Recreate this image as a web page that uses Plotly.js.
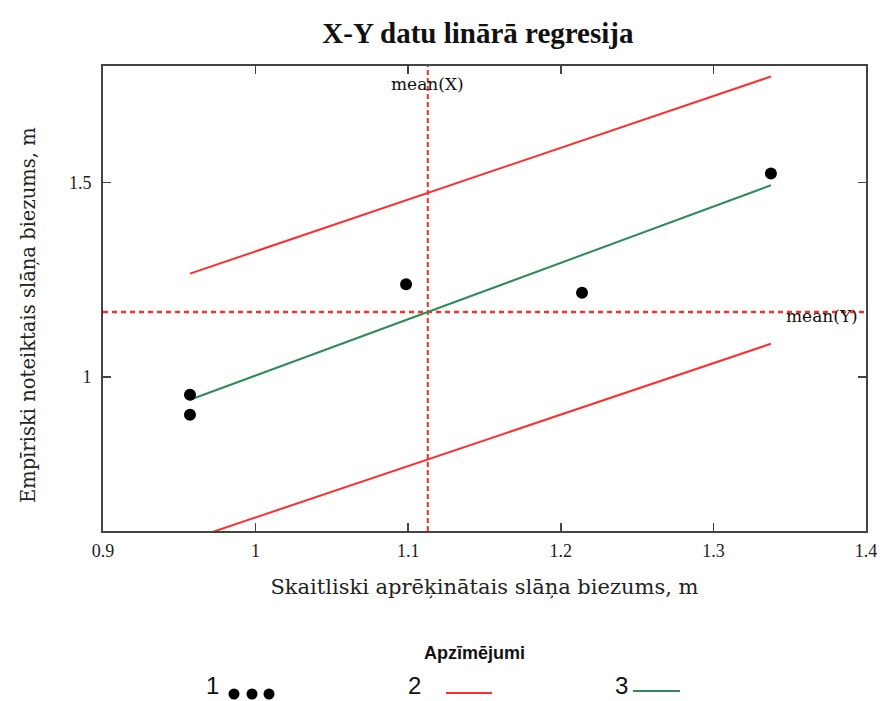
<!DOCTYPE html>
<html>
<head>
<meta charset="utf-8">
<script src="https://cdn.plot.ly/plotly-3.0.1.min.js"></script>
<style>html,body{margin:0;padding:0;background:#fff;}#chart{width:885px;height:701px;}</style>
</head>
<body>
<div id="chart"></div>
<script>
// ---- data ----
const pointsX = [0.957, 0.957, 1.0986, 1.2139, 1.3377];
const pointsY = [0.9536, 0.902, 1.2379, 1.2165, 1.523];

const fitX = [0.957, 1.3377];
const fitY = [0.9407, 1.493];

const upperX = [0.957, 1.3377];
const upperY = [1.2655, 1.773];

const lowerX = [0.957, 1.3377];
const lowerY = [0.581, 1.085];

const xTickVals = [0.9, 1, 1.1, 1.2, 1.3, 1.4];
const xTickText = ['0.9', '1', '1.1', '1.2', '1.3', '1.4'];
const yTickVals = [1, 1.5];
const yTickText = ['1', '1.5'];

const legendLabels = ['1', '2', '3'];
const legendTitle = 'Apzīmējumi';

const chartTitle = 'X-Y datu linārā regresija';
const xTitle = 'Skaitliski aprēķinātais slāņa biezums, m';
const yTitle = 'Empīriski noteiktais slāņa biezums, m';

// ---- derived ----
const mean = a => a.reduce((s, v) => s + v, 0) / a.length;
const meanX = mean(pointsX);
const meanY = mean(pointsY);

const RED = 'rgb(255,45,45)';
const GREEN = '#2e8b57';
const SERIF = '"Liberation Serif", "Times New Roman", serif';
const WIDESERIF = '"DejaVu Serif", serif';
const SANS = '"Liberation Sans", Arial, sans-serif';

// pixel -> paper helpers for text/legend placement (plot area 103..866 x 66..531)
const L = 103, R = 19, T = 66, B = 170, W = 885, H = 701;
const pw = W - L - R, ph = H - T - B;
const px = x => (x - L) / pw;
const py = y => (H - B - y) / ph;

const traces = [
  {x: upperX, y: upperY, mode: 'lines', line: {color: RED, width: 2}, hoverinfo: 'skip'},
  {x: lowerX, y: lowerY, mode: 'lines', line: {color: RED, width: 2}, hoverinfo: 'skip'},
  {x: fitX, y: fitY, mode: 'lines', line: {color: GREEN, width: 2}, hoverinfo: 'skip'},
  {x: pointsX, y: pointsY, mode: 'markers', marker: {color: '#000', size: 12}, cliponaxis: false}
];

const legendDotX = [234, 252, 269];
const shapes = [
  {type: 'line', xref: 'x', yref: 'paper', x0: meanX, x1: meanX, y0: 0, y1: 1,
   line: {color: RED, width: 2, dash: '5px,3px'}, layer: 'below'},
  {type: 'line', xref: 'paper', yref: 'y', x0: 0, x1: 1, y0: meanY, y1: meanY,
   line: {color: RED, width: 2.5, dash: '5px,4px'}, layer: 'below'},
  // legend samples
  {type: 'line', xref: 'paper', yref: 'paper', x0: px(446), x1: px(492), y0: py(693), y1: py(693),
   line: {color: RED, width: 2}},
  {type: 'line', xref: 'paper', yref: 'paper', x0: px(633), x1: px(680), y0: py(691), y1: py(691),
   line: {color: GREEN, width: 2}}
];
legendDotX.forEach(cx => shapes.push({
  type: 'circle', xref: 'paper', yref: 'paper', xsizemode: 'pixel', ysizemode: 'pixel',
  xanchor: px(cx), yanchor: py(694), x0: -5.5, x1: 5.5, y0: -5.5, y1: 5.5,
  fillcolor: '#000', line: {width: 0}
}));

const numFont = {family: SANS, size: 24, color: '#111'};
const meanFont = {family: WIDESERIF, size: 17, color: '#111'};
const annotations = [
  {text: yTitle, xref: 'paper', yref: 'paper', x: px(28), y: py(315), textangle: -90,
   xanchor: 'center', yanchor: 'middle', showarrow: false,
   font: {family: WIDESERIF, size: 19.5, color: '#222'}},
  {text: 'mean(X)', xref: 'x', yref: 'paper', x: meanX, y: 1, yanchor: 'top', yshift: -6,
   showarrow: false, font: meanFont},
  {text: 'mean(Y)', xref: 'paper', yref: 'y', x: 1, y: meanY, xanchor: 'right', yanchor: 'middle',
   xshift: -6, yshift: -4, showarrow: false, font: meanFont},
  {text: '<b>' + legendTitle + '</b>', xref: 'paper', yref: 'paper', x: px(474), y: py(653),
   xanchor: 'center', yanchor: 'middle', showarrow: false, font: {family: SANS, size: 18, color: '#111'}},
  {text: legendLabels[0], xref: 'paper', yref: 'paper', x: px(212), y: py(701), xanchor: 'center', yanchor: 'bottom',
   showarrow: false, font: numFont},
  {text: legendLabels[1], xref: 'paper', yref: 'paper', x: px(414), y: py(701), xanchor: 'center', yanchor: 'bottom',
   showarrow: false, font: numFont},
  {text: legendLabels[2], xref: 'paper', yref: 'paper', x: px(621), y: py(701), xanchor: 'center', yanchor: 'bottom',
   showarrow: false, font: numFont}
];

const axisCommon = {
  showgrid: false, zeroline: false, showline: true, linecolor: '#444', linewidth: 2,
  mirror: 'ticks', ticks: 'inside', ticklen: 8, tickwidth: 1.5, tickcolor: '#444',
  tickfont: {family: SERIF, size: 18, color: '#222'}, tickmode: 'array'
};

const layout = {
  width: W, height: H,
  margin: {l: L, r: R, t: T, b: B},
  paper_bgcolor: '#fff', plot_bgcolor: '#fff',
  showlegend: false,
  title: {text: '<b>' + chartTitle + '</b>', x: 0.54, xanchor: 'center', y: 1 - 33 / H, yanchor: 'middle',
          font: {family: SERIF, size: 29, color: '#111'}},
  xaxis: Object.assign({}, axisCommon, {
    range: [0.9, 1.4], tickvals: xTickVals, ticktext: xTickText, ticklabelstandoff: 2,
    title: {text: xTitle, standoff: 20, font: {family: WIDESERIF, size: 21, color: '#222'}}
  }),
  yaxis: Object.assign({}, axisCommon, {
    range: [0.603, 1.80], tickvals: yTickVals, ticktext: yTickText, ticklabelstandoff: 6
  }),
  shapes: shapes,
  annotations: annotations
};

Plotly.newPlot('chart', traces, layout, {displayModeBar: false, staticPlot: true});
</script>
</body>
</html>
